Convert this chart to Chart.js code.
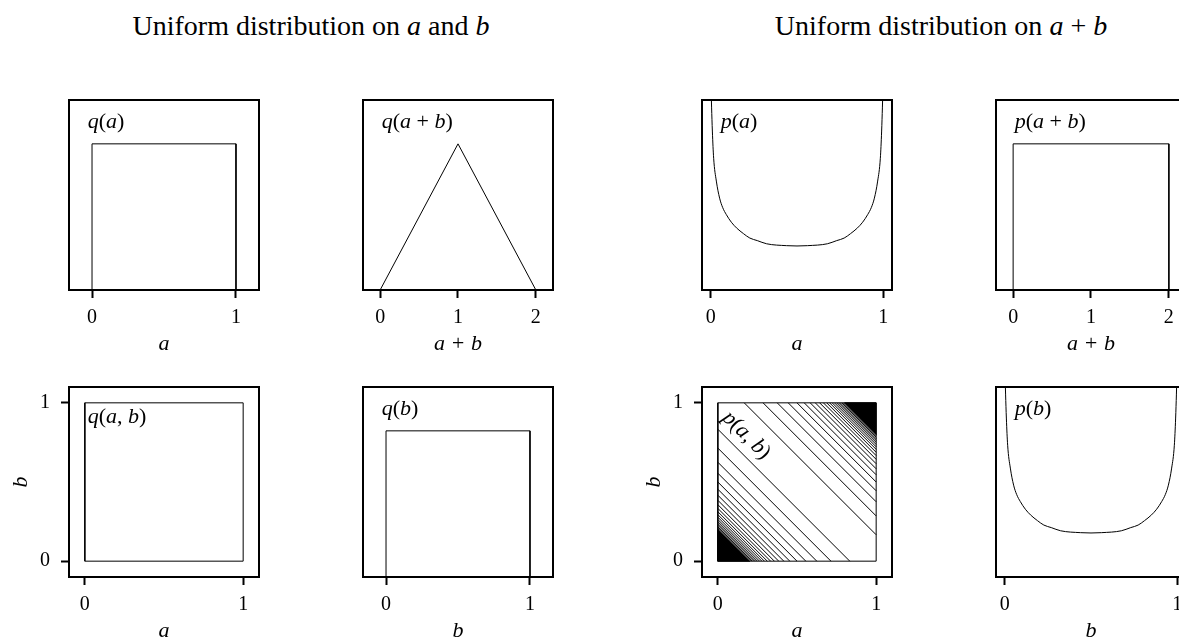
<!DOCTYPE html>
<html>
<head>
<meta charset="utf-8">
<script src="https://cdn.jsdelivr.net/npm/chart.js@4.4.0/dist/chart.umd.min.js"></script>
<style>
  html, body { margin: 0; padding: 0; background: #fff; overflow: hidden; }
  #wrap { position: relative; width: 1179px; height: 639px; overflow: hidden; background: #fff; }
  canvas { position: absolute; }
  .title { position: absolute; top: 12px; font-family: 'Liberation Serif', serif; font-size: 28px;
           line-height: 28px; white-space: nowrap; transform: translateX(-50%); color: #000; }
</style>
</head>
<body>
<div id="wrap">
  <div class="title" style="left:311px">Uniform distribution on <i>a</i> and <i>b</i></div>
  <div class="title" style="left:941px">Uniform distribution on <i>a</i> + <i>b</i></div>
</div>
<script>
const FONT = "'Liberation Serif', serif";

// q(a), q(b): uniform on [0, 1]
const boxX = [0, 0, 1, 1];
const boxY = [0, 1, 1, 0];
// q(a+b): triangle on [0, 2]
const triX = [0, 1, 2];
const triY = [0, 1, 0];
// p(a+b): uniform on [0, 2]
const sumBoxX = [0, 0, 2, 2];
const sumBoxY = [0, 0.5, 0.5, 0];
// q(a,b): unit square outline
const squareX = [0, 1, 1, 0, 0];
const squareY = [0, 0, 1, 1, 0];
// p(a), p(b): U-shaped marginal
const uX = [0.001, 0.01, 0.0175, 0.033, 0.052, 0.07, 0.091, 0.12, 0.15, 0.19, 0.227, 0.27, 0.324, 0.44, 0.5,
            0.56, 0.676, 0.73, 0.773, 0.81, 0.85, 0.88, 0.909, 0.93, 0.948, 0.967, 0.9825, 0.99, 0.999];
const uY = [3.3, 2.51, 2.08, 1.72, 1.45, 1.30, 1.19, 1.07, 0.98, 0.89, 0.82, 0.78, 0.73, 0.70, 0.695,
            0.70, 0.73, 0.78, 0.82, 0.89, 0.98, 1.07, 1.19, 1.30, 1.45, 1.72, 2.08, 2.51, 3.3];
// p(a,b): contour lines a + b = s
const contourLow = [0.8333, 0.7143, 0.625, 0.5556, 0.5, 0.4545, 0.4167, 0.3846, 0.3571, 0.3333,
                    0.3125, 0.2941, 0.2778, 0.2632, 0.25, 0.2381, 0.2273, 0.2174, 0.2083, 0.2];
const contourHigh = [1.1667, 1.2857, 1.375, 1.4444, 1.5, 1.5455, 1.5833, 1.6154, 1.6429, 1.6667,
                     1.6875, 1.7059, 1.7222, 1.7368, 1.75, 1.7619, 1.7727, 1.7826, 1.7917, 1.8];
const darkLow = 0.2;   // lines merge into black below this sum
const darkHigh = 1.8;  // and above this one
// ticks
const ticksUnit = [0, 1];
const ticksSum = [0, 1, 2];

const wrap = document.getElementById('wrap');

function line(xs, ys, extra) {
  return Object.assign({
    type: 'line',
    data: xs.map((x, i) => ({ x: x, y: ys[i] })),
    borderColor: '#000', borderWidth: 1, pointRadius: 0, fill: false, tension: 0
  }, extra || {});
}

function drawMath(ctx, text, x, y, size, centered) {
  const parts = [...text].map(ch => ({ ch, font: (/[a-z]/.test(ch) ? 'italic ' : '') + size + 'px ' + FONT }));
  let w = 0;
  parts.forEach(p => { ctx.font = p.font; p.w = ctx.measureText(p.ch).width; w += p.w; });
  let cx = centered ? x - w / 2 : x;
  parts.forEach(p => { ctx.font = p.font; ctx.fillText(p.ch, cx, y); cx += p.w; });
}

function axis(range, ticks, title, dir) {
  return {
    type: 'linear', min: range[0], max: range[1],
    afterBuildTicks: s => { s.ticks = ticks.map(v => ({ value: v })); },
    afterFit: s => {
      if (dir === 'x') { s.height = 75; s.paddingLeft = 0; s.paddingRight = 0; }
      else { s.width = 62; s.paddingTop = 0; s.paddingBottom = 0; }
    },
    border: { display: false },
    grid: { drawOnChartArea: false, drawTicks: true, tickLength: 8, tickWidth: 2, tickColor: '#000' },
    ticks: { color: '#000', font: { family: FONT, size: 20, lineHeight: 1.2 },
             padding: dir === 'x' ? 8 : 11, maxRotation: 0, autoSkip: false, callback: v => String(v) },
    title: { display: true, text: title, color: '#000',
             font: { family: FONT, size: 22, style: 'italic', lineHeight: 1.2 },
             padding: dir === 'x' ? { top: 0, bottom: 8 } : { top: 1, bottom: 0 } }
  };
}

function panel(o) {
  const twoD = !!o.yTicks;
  const L = twoD ? 62 : 10, R = 10, T = 10, B = 75, S = 190;
  const cv = document.createElement('canvas');
  cv.width = S + L + R;
  cv.height = S + T + B;
  cv.style.left = (o.left - L) + 'px';
  cv.style.top = (o.top - T) + 'px';
  wrap.appendChild(cv);

  const decor = {
    id: 'decor',
    afterDraw(chart) {
      const { ctx, chartArea: a } = chart;
      ctx.save();
      ctx.fillStyle = '#000';
      ctx.textBaseline = 'alphabetic';
      if (o.rotate) {
        const px = chart.scales.x.getPixelForValue(o.labelAt[0]);
        const py = chart.scales.y.getPixelForValue(o.labelAt[1]);
        ctx.translate(px, py);
        ctx.rotate(Math.PI / 4);
        ctx.textBaseline = 'middle';
        drawMath(ctx, o.label, 0, 0, 22, true);
      } else {
        drawMath(ctx, o.label, a.left + 18.7, a.top + o.labelDy, 22, false);
      }
      ctx.restore();
      ctx.save();
      ctx.strokeStyle = '#000';
      ctx.lineWidth = 2;
      ctx.strokeRect(a.left, a.top, a.right - a.left, a.bottom - a.top);
      ctx.restore();
    }
  };

  new Chart(cv, {
    type: 'scatter',
    data: { datasets: o.datasets },
    options: {
      responsive: false, animation: false, events: [],
      layout: { padding: { top: T, right: R, bottom: 0, left: twoD ? 0 : L } },
      plugins: { legend: { display: false }, tooltip: { enabled: false } },
      scales: {
        x: axis(o.xRange, o.xTicks, o.xTitle, 'x'),
        y: twoD ? axis(o.yRange, o.yTicks, 'b', 'y')
                : { display: false, min: o.yRange[0], max: o.yRange[1] }
      }
    },
    plugins: [decor]
  });
}

const unitRange = [-0.16, 1.16];
const sumRange = [-0.22, 2.22];
const pRange = [-0.05, 1.05];
const sqRange = [-0.1, 1.1];

// top row
panel({ left: 69, top: 100, xRange: unitRange, yRange: [0, 1.3], xTicks: ticksUnit, xTitle: 'a',
        label: 'q(a)', labelDy: 28, datasets: [line(boxX, boxY)] });
panel({ left: 363, top: 100, xRange: sumRange, yRange: [0, 1.3], xTicks: ticksSum, xTitle: 'a + b',
        label: 'q(a + b)', labelDy: 28, datasets: [line(triX, triY)] });
panel({ left: 702, top: 100, xRange: pRange, yRange: [0, 3], xTicks: ticksUnit, xTitle: 'a',
        label: 'p(a)', labelDy: 28, datasets: [line(uX, uY, { cubicInterpolationMode: 'monotone' })] });
panel({ left: 996, top: 100, xRange: sumRange, yRange: [0, 0.65], xTicks: ticksSum, xTitle: 'a + b',
        label: 'p(a + b)', labelDy: 28, datasets: [line(sumBoxX, sumBoxY)] });

// bottom row
panel({ left: 69, top: 387, xRange: sqRange, yRange: sqRange, xTicks: ticksUnit, yTicks: ticksUnit, xTitle: 'a',
        label: 'q(a, b)', labelDy: 36.3, datasets: [line(squareX, squareY)] });
panel({ left: 363, top: 387, xRange: unitRange, yRange: [0, 1.3], xTicks: ticksUnit, xTitle: 'b',
        label: 'q(b)', labelDy: 28, datasets: [line(boxX, boxY)] });

const contourSets = [];
contourLow.forEach(s => contourSets.push(line([0, s], [s, 0])));
contourHigh.forEach(s => contourSets.push(line([s - 1, 1], [1, s - 1])));
contourSets.push(line([0, darkLow, 0, 0], [0, 0, darkLow, 0], { fill: 'shape', backgroundColor: '#000' }));
contourSets.push(line([1, darkHigh - 1, 1, 1], [1, 1, darkHigh - 1, 1], { fill: 'shape', backgroundColor: '#000' }));
contourSets.push(line(squareX, squareY));
panel({ left: 702, top: 387, xRange: sqRange, yRange: sqRange, xTicks: ticksUnit, yTicks: ticksUnit, xTitle: 'a',
        label: 'p(a, b)', rotate: true, labelAt: [0.18, 0.795], datasets: contourSets });
panel({ left: 996, top: 387, xRange: pRange, yRange: [0, 3], xTicks: ticksUnit, xTitle: 'b',
        label: 'p(b)', labelDy: 28, datasets: [line(uX, uY, { cubicInterpolationMode: 'monotone' })] });
</script>
</body>
</html>
